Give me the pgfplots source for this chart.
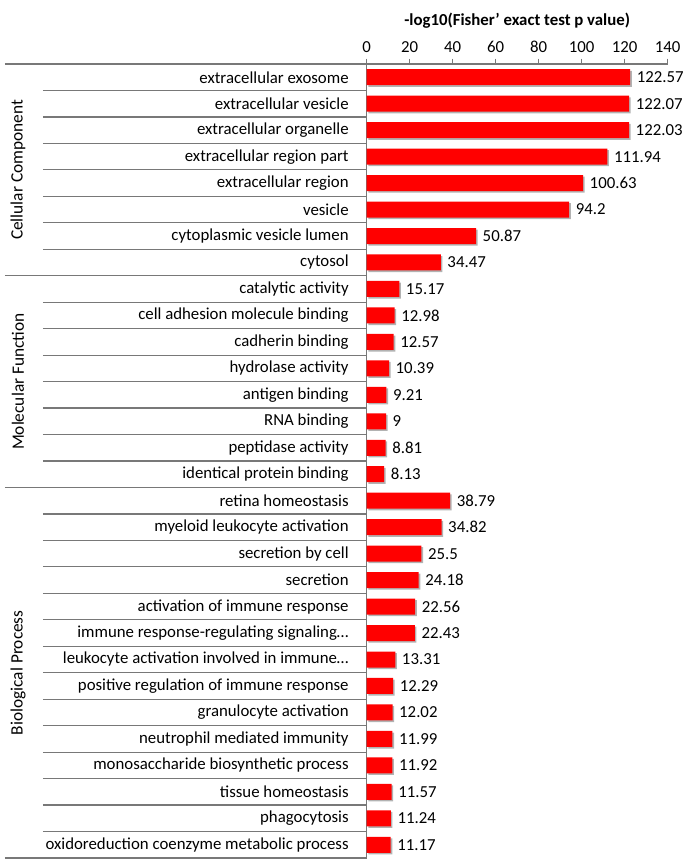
\documentclass[border=0pt]{standalone}
\usepackage{pgfplots}
\pgfplotsset{compat=1.18}
\usepackage{fontspec}
\setmainfont{Carlito}
\usetikzlibrary{shadows}

% row, value, printed label
\pgfplotstableread{
y x lab
0 122.57 122.57
1 122.07 122.07
2 122.03 122.03
3 111.94 111.94
4 100.63 100.63
5 94.2 94.2
6 50.87 50.87
7 34.47 34.47
8 15.17 15.17
9 12.98 12.98
10 12.57 12.57
11 10.39 10.39
12 9.21 9.21
13 9 9
14 8.81 8.81
15 8.13 8.13
16 38.79 38.79
17 34.82 34.82
18 25.5 25.5
19 24.18 24.18
20 22.56 22.56
21 22.43 22.43
22 13.31 13.31
23 12.29 12.29
24 12.02 12.02
25 11.99 11.99
26 11.92 11.92
27 11.57 11.57
28 11.24 11.24
29 11.17 11.17
}\gotable

\definecolor{sepgray}{RGB}{120,120,120}

\begin{document}
\begin{tikzpicture}
\begin{axis}[
    scale only axis,
    width=225.75pt, height=595.5pt,
    xbar, bar width=12pt,
    xmin=0, xmax=140, xtick={0,20,...,140},
    ymin=-0.5, ymax=29.5, y dir=reverse,
    ytick={0,...,29},
    yticklabels={extracellular exosome, extracellular vesicle, extracellular organelle,
        extracellular region part, extracellular region, vesicle,
        cytoplasmic vesicle lumen, cytosol,
        catalytic activity, cell adhesion molecule binding, cadherin binding,
        hydrolase activity, antigen binding, RNA binding, peptidase activity,
        identical protein binding,
        retina homeostasis, myeloid leukocyte activation, secretion by cell,
        secretion, activation of immune response,
        immune response-regulating signaling…,
        leukocyte activation involved in immune…,
        positive regulation of immune response, granulocyte activation,
        neutrophil mediated immunity, monosaccharide biosynthetic process,
        tissue homeostasis, phagocytosis,
        oxidoreduction coenzyme metabolic process},
    axis x line*=top, axis y line*=left,
    axis line style={-, sepgray, line width=0.9pt},
    tick align=outside,
    xtick style={sepgray, line width=0.6pt},
    major tick length=4pt,
    ytick style={draw=none},
    /pgf/number format/assume math mode=true,
    tick label style={font=\fontsize{12.6}{14}\selectfont},
    yticklabel style={anchor=east, xshift=-6pt},
    xticklabel style={yshift=1pt},
    xlabel={-log10(Fisher' exact test p value)},
    xlabel style={font=\fontsize{12.6}{14}\selectfont\bfseries, yshift=3pt},
    point meta=explicit symbolic,
    nodes near coords,
    every node near coord/.append style={font=\fontsize{12.6}{14}\selectfont, anchor=west, xshift=1.5pt},
    clip=false,
]
\addplot[fill=red, draw=none,
    drop shadow={shadow xshift=1.2pt, shadow yshift=-1.2pt, fill=black, opacity=0.3}]
    table[x=x, y=y, meta=lab] {\gotable};

% row separators in the label area
\pgfplotsinvokeforeach{0.5,1.5,...,6.5}{
  \draw[sepgray, line width=0.9pt] ([xshift=-242.8pt]axis cs:0,#1) -- (axis cs:0,#1);}
\pgfplotsinvokeforeach{8.5,9.5,...,14.5}{
  \draw[sepgray, line width=0.9pt] ([xshift=-242.8pt]axis cs:0,#1) -- (axis cs:0,#1);}
\pgfplotsinvokeforeach{16.5,17.5,...,28.5}{
  \draw[sepgray, line width=0.9pt] ([xshift=-242.8pt]axis cs:0,#1) -- (axis cs:0,#1);}
% group separators
\pgfplotsinvokeforeach{-0.5,7.5,15.5,29.5}{
  \draw[sepgray, line width=0.9pt] ([xshift=-271.3pt]axis cs:0,#1) -- (axis cs:0,#1);}

\node[rotate=90, font=\fontsize{13}{14}\selectfont] at ([xshift=-261.5pt]axis cs:0,3.5) {Cellular Component};
\node[rotate=90, font=\fontsize{13}{14}\selectfont] at ([xshift=-261.5pt]axis cs:0,11.5) {Molecular Function};
\node[rotate=90, font=\fontsize{13}{14}\selectfont] at ([xshift=-261.5pt]axis cs:0,22.5) {Biological Process};

\coordinate (bl) at (axis cs:0,29.5);
\coordinate (tr) at (axis cs:140,-0.5);
\end{axis}
\pgfresetboundingbox
\path ([shift={(-275pt,-7.5pt)}]bl) rectangle ([shift={(19pt,48pt)}]tr);
\end{tikzpicture}
\end{document}
